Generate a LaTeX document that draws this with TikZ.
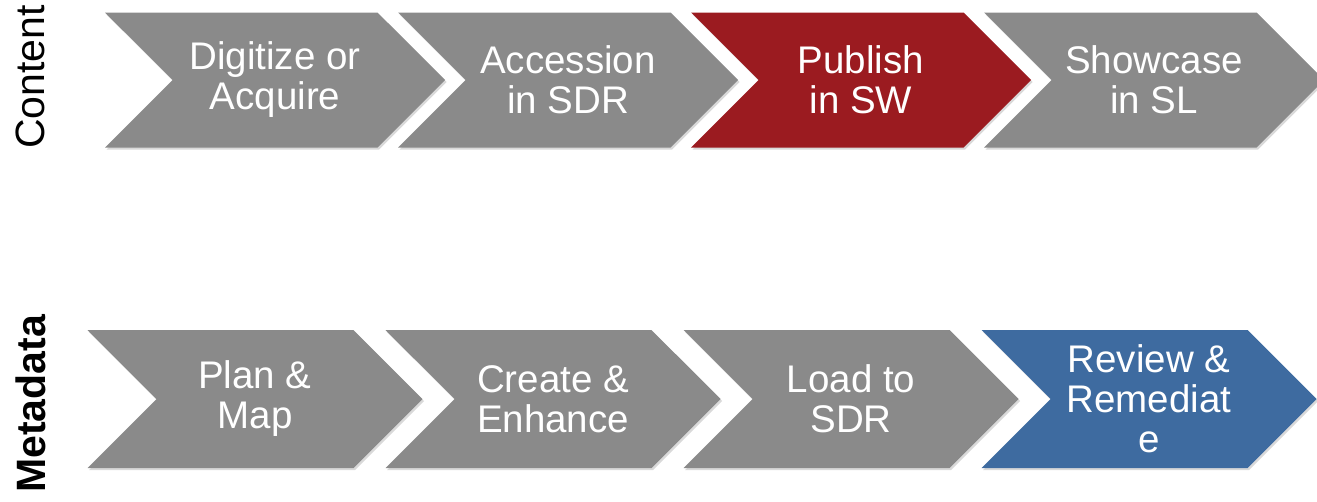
\documentclass[tikz,border=0pt]{standalone}
\usepackage{fontspec}
\setmainfont{Liberation Sans}
\usetikzlibrary{shapes,positioning,shadows}
\definecolor{stagegray}{RGB}{138,138,138}
\definecolor{stagered}{RGB}{155,27,32}
\definecolor{stageblue}{RGB}{62,107,160}

\begin{document}
\begin{tikzpicture}[x = 1pt, y = -1pt, node distance = 293pt, on grid, stage/.style = {signal, signal from = west, signal to = east, signal pointer angle = 90, minimum width = 340pt, minimum height = 135pt, inner sep = 0pt, fill = stagegray, text = white, align = center, font = \fontsize{38.5}{40}\selectfont, drop shadow = {opacity = 0.3, shadow xshift = 1.5pt, shadow yshift = -2pt}}, row/.style = {rotate = 90, font = \fontsize{41}{41}\selectfont}]
\useasboundingbox (0,0) rectangle (1317,501);
\node[row] (lc) at (30,77) {Content};
\node[row, font = \fontsize{41}{41}\selectfont\bfseries] (lm) at (31,404) {Metadata};

\node[stage] (c1) at (275,80) {Digitize or\\Acquire};
\node[stage, right of = c1] (c2) {Accession\\in SDR};
\node[stage, fill = stagered, right of = c2] (c3) {Publish\\in SW};
\node[stage, right of = c3] (c4) {Showcase\\in SL};

\begin{scope}[node distance = 298pt, stage/.append style = {minimum width = 335pt, minimum height = 138pt}]
\node[stage] (m1) at (255,399) {Plan \&\\Map};
\node[stage, right of = m1] (m2) {Create \&\\Enhance};
\node[stage, right of = m2] (m3) {Load to\\SDR};
\node[stage, fill = stageblue, right of = m3] (m4) {Review \&\\Remediat\\e};
\end{scope}
\end{tikzpicture}
\end{document}
